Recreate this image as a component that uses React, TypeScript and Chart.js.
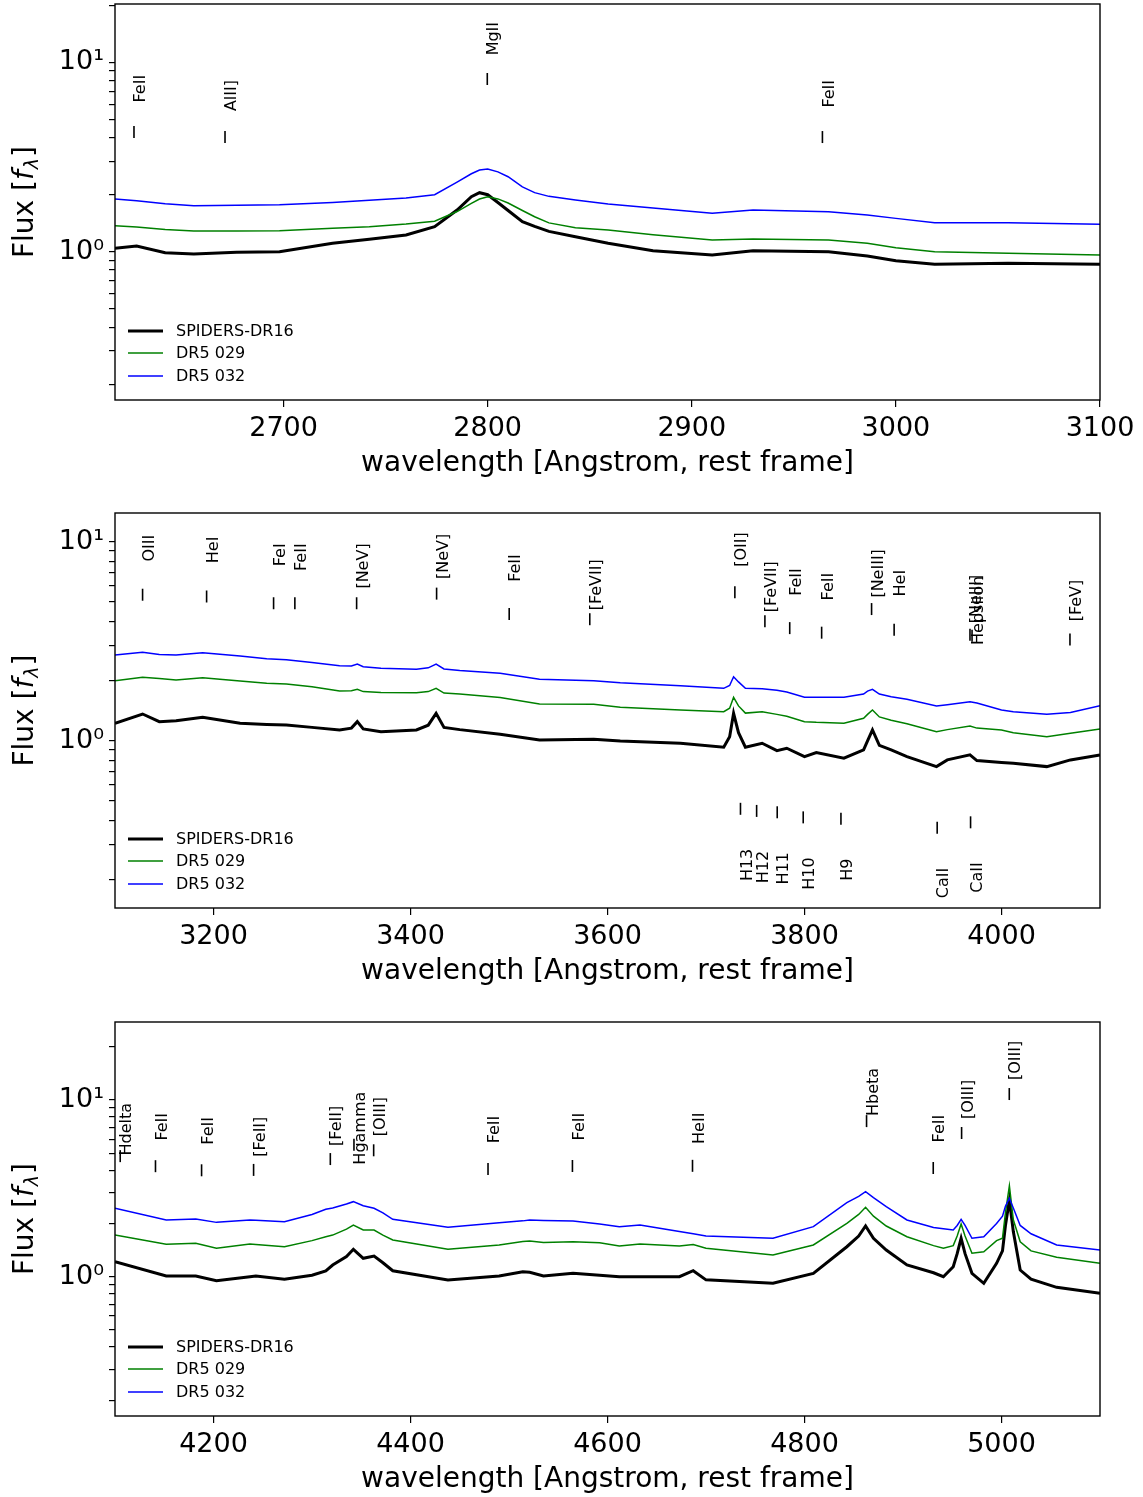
import React, { useEffect, useRef } from 'react';
import { Chart, registerables } from 'chart.js';

Chart.register(...registerables);

const FF = "'DejaVu Sans', 'Liberation Sans', sans-serif";

// ---------- shared ----------
const SERIES_LABELS = ['SPIDERS-DR16', 'DR5 029', 'DR5 032'];
const SERIES_COLORS = ['#000000', '#008000', '#0000ff'];
const SERIES_WIDTHS = [3, 1.5, 1.5];
const X_AXIS_TITLE = 'wavelength [Angstrom, rest frame]';
const Y_TITLE_PARTS = ['Flux [', 'f', 'λ', ']'];
const Y_TICK_VALUES = [0.2, 0.3, 0.4, 0.5, 0.6, 0.7, 0.8, 0.9, 1, 2, 3, 4, 5, 6, 7, 8, 9, 10, 20];
const Y_TICK_LABELS: Record<string, string> = { '1': '10⁰', '10': '10¹' };

// ---------- panel 1 ----------
const P1_WAVE = [2617.4, 2628, 2642, 2656, 2677, 2698, 2724, 2742, 2760, 2774, 2785, 2792, 2796, 2800, 2805, 2810, 2817, 2823, 2830, 2843, 2859, 2881, 2910, 2930, 2967, 2986, 3000, 3019, 3055, 3100];
const P1_SPIDERS = [1.042, 1.072, 0.988, 0.972, 0.993, 1.0, 1.108, 1.163, 1.225, 1.355, 1.661, 1.951, 2.049, 2.0, 1.82, 1.65, 1.44, 1.36, 1.28, 1.2, 1.108, 1.012, 0.961, 1.012, 1.0, 0.949, 0.896, 0.858, 0.869, 0.858];
const P1_DR5_029 = [1.372, 1.35, 1.31, 1.286, 1.288, 1.291, 1.33, 1.355, 1.4, 1.45, 1.63, 1.8, 1.898, 1.951, 1.9, 1.807, 1.65, 1.53, 1.42, 1.339, 1.302, 1.23, 1.153, 1.167, 1.153, 1.108, 1.05, 1.0, 0.981, 0.961];
const P1_DR5_032 = [1.898, 1.86, 1.79, 1.749, 1.76, 1.77, 1.82, 1.87, 1.92, 2.0, 2.33, 2.58, 2.7, 2.733, 2.64, 2.489, 2.2, 2.05, 1.96, 1.875, 1.786, 1.7, 1.595, 1.661, 1.626, 1.562, 1.5, 1.423, 1.423, 1.395];
const P1_X_TICKS = [2700, 2800, 2900, 3000, 3100];
const P1_LINE_NAMES = ['FeII', 'AlII]', 'MgII', 'FeII'];
const P1_LINE_WAVES = [2626.7, 2671.3, 2799.8, 2964.0];
const P1_LINE_FLUX = [4.29, 4.03, 8.16, 4.03];

// ---------- panel 2 ----------
const P2_WAVE = [3100, 3128, 3145, 3162, 3189, 3227, 3254, 3274, 3300, 3328, 3340, 3346, 3352, 3370, 3406, 3418, 3426, 3434, 3450, 3491, 3531, 3586, 3613, 3674, 3718, 3724, 3728, 3733, 3740, 3757, 3772, 3782, 3800, 3812, 3840, 3860, 3864, 3869, 3876, 3888, 3904, 3934, 3945, 3968, 3975, 4000, 4012, 4046, 4070, 4100];
const P2_SPIDERS = [1.227, 1.366, 1.25, 1.264, 1.315, 1.227, 1.21, 1.203, 1.17, 1.136, 1.16, 1.25, 1.15, 1.113, 1.136, 1.2, 1.377, 1.17, 1.14, 1.08, 1.012, 1.02, 1.0, 0.974, 0.93, 1.05, 1.377, 1.1, 0.93, 0.974, 0.894, 0.919, 0.834, 0.874, 0.819, 0.901, 1.0, 1.136, 0.95, 0.901, 0.834, 0.743, 0.803, 0.851, 0.797, 0.78, 0.773, 0.743, 0.803, 0.851];
const P2_DR5_029 = [2.007, 2.09, 2.06, 2.023, 2.078, 2.0, 1.948, 1.935, 1.87, 1.782, 1.79, 1.817, 1.77, 1.75, 1.747, 1.77, 1.838, 1.74, 1.72, 1.655, 1.533, 1.528, 1.476, 1.431, 1.403, 1.46, 1.657, 1.5, 1.38, 1.403, 1.36, 1.33, 1.25, 1.24, 1.227, 1.3, 1.36, 1.431, 1.32, 1.27, 1.22, 1.113, 1.14, 1.189, 1.16, 1.136, 1.1, 1.051, 1.093, 1.149];
const P2_DR5_032 = [2.7, 2.787, 2.72, 2.7, 2.773, 2.67, 2.588, 2.56, 2.48, 2.387, 2.38, 2.434, 2.36, 2.32, 2.29, 2.33, 2.434, 2.3, 2.26, 2.186, 2.04, 2.007, 1.961, 1.895, 1.838, 1.9, 2.102, 1.98, 1.838, 1.83, 1.8, 1.76, 1.66, 1.657, 1.657, 1.72, 1.78, 1.817, 1.72, 1.668, 1.62, 1.498, 1.52, 1.575, 1.55, 1.431, 1.4, 1.361, 1.39, 1.504];
const P2_X_TICKS = [3200, 3400, 3600, 3800, 4000];
const P2_EMIS_NAMES = ['OIII', 'HeI', 'FeI', 'FeII', '[NeV]', '[NeV]', 'FeII', '[FeVII]', '[OII]', '[FeVII]', 'FeII', 'FeII', '[NeIII]', 'HeI', '[NeIII]', 'Hepsilon', '[FeV]'];
const P2_EMIS_WAVES = [3128, 3193, 3261, 3282.6, 3345.3, 3426.5, 3500.2, 3582, 3729.3, 3759.8, 3785, 3817.4, 3868.1, 3891, 3968, 3970.1, 4069.5];
const P2_EMIS_FLUX = [5.43, 5.32, 4.92, 4.92, 4.92, 5.5, 4.34, 4.09, 5.59, 4.0, 3.69, 3.5, 4.6, 3.62, 3.42, 3.38, 3.23];
const P2_ABS_NAMES = ['H13', 'H12', 'H11', 'H10', 'H9', 'CaII', 'CaII'];
const P2_ABS_WAVES = [3735, 3751.4, 3772.3, 3798.7, 3837, 3934.7, 3968.6];
const P2_ABS_FLUX = [0.456, 0.445, 0.438, 0.413, 0.407, 0.366, 0.39];

// ---------- panel 3 ----------
const P3_WAVE = [4100, 4152, 4182, 4203, 4237, 4243, 4272, 4300, 4314, 4321, 4335, 4342, 4352, 4363, 4372, 4382, 4438, 4490, 4514, 4521, 4535, 4565, 4592, 4612, 4633, 4673, 4687, 4700, 4768, 4809, 4843, 4855, 4862, 4870, 4883, 4904, 4931, 4941, 4951, 4955, 4959, 4963, 4970, 4982, 4995, 5001, 5004, 5008, 5012, 5019, 5030, 5056, 5100];
const P3_SPIDERS = [1.216, 1.009, 1.009, 0.949, 1.0, 1.009, 0.967, 1.02, 1.08, 1.165, 1.3, 1.429, 1.271, 1.31, 1.2, 1.081, 0.958, 1.009, 1.067, 1.06, 1.009, 1.045, 1.02, 1.0, 1.0, 1.0, 1.081, 0.96, 0.918, 1.045, 1.478, 1.7, 1.936, 1.65, 1.416, 1.165, 1.053, 1.0, 1.139, 1.35, 1.65, 1.35, 1.045, 0.918, 1.191, 1.4, 1.95, 2.717, 1.8, 1.091, 0.97, 0.871, 0.805];
const P3_DR5_029 = [1.722, 1.526, 1.545, 1.448, 1.531, 1.52, 1.478, 1.6, 1.684, 1.72, 1.86, 1.962, 1.838, 1.838, 1.72, 1.614, 1.429, 1.512, 1.58, 1.592, 1.56, 1.578, 1.557, 1.492, 1.531, 1.49, 1.52, 1.45, 1.327, 1.512, 2.005, 2.25, 2.471, 2.2, 1.936, 1.684, 1.5, 1.448, 1.5, 1.7, 1.987, 1.7, 1.357, 1.385, 1.6, 1.65, 2.3, 3.273, 2.1, 1.578, 1.4, 1.288, 1.191];
const P3_DR5_032 = [2.438, 2.094, 2.121, 2.03, 2.094, 2.09, 2.048, 2.25, 2.407, 2.45, 2.58, 2.658, 2.52, 2.438, 2.3, 2.113, 1.904, 2.021, 2.07, 2.094, 2.08, 2.067, 1.987, 1.919, 1.962, 1.8, 1.75, 1.699, 1.65, 1.919, 2.623, 2.85, 3.027, 2.8, 2.489, 2.094, 1.9, 1.87, 1.838, 1.95, 2.113, 1.95, 1.65, 1.684, 2.0, 2.2, 2.5, 2.778, 2.45, 1.95, 1.75, 1.512, 1.416];
const P3_X_TICKS = [4200, 4400, 4600, 4800, 5000];
const P3_LINE_NAMES = ['Hdelta', 'FeII', 'FeII', '[FeII]', '[FeII]', 'Hgamma', '[OIII]', 'FeII', 'FeII', 'HeII', 'Hbeta', 'FeII', '[OIII]', '[OIII]'];
const P3_LINE_WAVES = [4105.3, 4141.1, 4187.9, 4240.7, 4318.6, 4342.6, 4362.6, 4478.7, 4564.4, 4686.3, 4863, 4930.7, 4959.5, 5007.9];
const P3_LINE_FLUX = [4.81, 4.22, 4.0, 4.02, 4.63, 5.57, 5.19, 4.07, 4.23, 4.24, 7.59, 4.12, 6.5, 10.8];

type LineGroup = { names: string[]; waves: number[]; flux: number[]; labelFactor: number };
type PanelSpec = {
  waves: number[];
  series: number[][];
  xMin: number; xMax: number; xTicks: number[];
  yMin: number; yMax: number;
  groups: LineGroup[];
  frameTop: number; frameHeight: number;
};

const PANELS: PanelSpec[] = [
  {
    waves: P1_WAVE, series: [P1_SPIDERS, P1_DR5_029, P1_DR5_032],
    xMin: 2617.4, xMax: 3100, xTicks: P1_X_TICKS, yMin: 0.165, yMax: 20.3,
    groups: [{ names: P1_LINE_NAMES, waves: P1_LINE_WAVES, flux: P1_LINE_FLUX, labelFactor: 2 }],
    frameTop: 4, frameHeight: 396,
  },
  {
    waves: P2_WAVE, series: [P2_SPIDERS, P2_DR5_029, P2_DR5_032],
    xMin: 3100, xMax: 4100, xTicks: P2_X_TICKS, yMin: 0.1447, yMax: 13.98,
    groups: [
      { names: P2_EMIS_NAMES, waves: P2_EMIS_WAVES, flux: P2_EMIS_FLUX, labelFactor: 2 },
      { names: P2_ABS_NAMES, waves: P2_ABS_WAVES, flux: P2_ABS_FLUX, labelFactor: 0.63 },
    ],
    frameTop: 513, frameHeight: 395,
  },
  {
    waves: P3_WAVE, series: [P3_SPIDERS, P3_DR5_029, P3_DR5_032],
    xMin: 4100, xMax: 5100, xTicks: P3_X_TICKS, yMin: 0.163, yMax: 27.6,
    groups: [{ names: P3_LINE_NAMES, waves: P3_LINE_WAVES, flux: P3_LINE_FLUX, labelFactor: 2 }],
    frameTop: 1022, frameHeight: 394,
  },
];

const PAD_TOP = 24;
const PAD_BOTTOM = 4;
const X_AXIS_HEIGHT = 81;
const Y_AXIS_WIDTH = 115;
const PAD_RIGHT = 43;
const LEGEND_ROWS = [69, 47, 24];

function makeDecor(panel: PanelSpec) {
  return {
    id: 'panelDecor',
    afterDatasetsDraw(chart: any) {
      const { ctx, chartArea: a, scales } = chart;
      const xs = scales.x;
      const ys = scales.y;
      ctx.save();
      // frame
      ctx.strokeStyle = '#000';
      ctx.lineWidth = 1.4;
      ctx.strokeRect(a.left, a.top, a.right - a.left, a.bottom - a.top);

      // line labels
      ctx.fillStyle = '#000';
      ctx.font = `16px ${FF}`;
      ctx.textAlign = 'right';
      ctx.textBaseline = 'top';
      panel.groups.forEach((g) => {
        g.names.forEach((name, i) => {
          const x = xs.getPixelForValue(g.waves[i]);
          const y = ys.getPixelForValue(g.flux[i] * g.labelFactor);
          ctx.save();
          ctx.translate(x - 1, y);
          ctx.rotate(-Math.PI / 2);
          ctx.fillText(name, 0, 0);
          ctx.restore();
        });
      });

      // legend
      ctx.textAlign = 'left';
      ctx.textBaseline = 'middle';
      chart.data.datasets.slice(0, 3).forEach((ds: any, i: number) => {
        const y = a.bottom - LEGEND_ROWS[i];
        ctx.strokeStyle = ds.borderColor;
        ctx.lineWidth = ds.borderWidth;
        ctx.beginPath();
        ctx.moveTo(a.left + 13, y);
        ctx.lineTo(a.left + 48, y);
        ctx.stroke();
        ctx.fillStyle = '#000';
        ctx.font = `16px ${FF}`;
        ctx.fillText(ds.label, a.left + 61, y + 1);
      });

      // y-axis title with italic f and subscript lambda
      const cy = (a.top + a.bottom) / 2;
      const fonts = [`28px ${FF}`, `italic 28px ${FF}`, `italic 19px ${FF}`, `28px ${FF}`];
      const widths = Y_TITLE_PARTS.map((t, i) => {
        ctx.font = fonts[i];
        return ctx.measureText(t).width;
      });
      const total = widths.reduce((s, w) => s + w, 0) + 2;
      ctx.save();
      ctx.translate(26, cy);
      ctx.rotate(-Math.PI / 2);
      ctx.textAlign = 'left';
      ctx.textBaseline = 'middle';
      ctx.fillStyle = '#000';
      let px = -total / 2;
      Y_TITLE_PARTS.forEach((t, i) => {
        ctx.font = fonts[i];
        const dy = i === 2 ? 7 : 0;
        ctx.fillText(t, px, dy);
        px += widths[i] + (i === 1 ? 1 : i === 2 ? 1 : 0);
      });
      ctx.restore();
      ctx.restore();
    },
  };
}

function SpectrumPanel({ panel }: { panel: PanelSpec }) {
  const ref = useRef<HTMLCanvasElement>(null);
  const canvasHeight = PAD_TOP + panel.frameHeight + X_AXIS_HEIGHT + PAD_BOTTOM;
  const canvasTop = panel.frameTop - PAD_TOP;

  useEffect(() => {
    const canvas = ref.current;
    if (!canvas) return;
    const spectra = panel.series.map((flux, i) => ({
      type: 'scatter' as const,
      label: SERIES_LABELS[i],
      data: panel.waves.map((w, j) => ({ x: w, y: flux[j] })),
      showLine: true,
      borderColor: SERIES_COLORS[i],
      backgroundColor: SERIES_COLORS[i],
      borderWidth: SERIES_WIDTHS[i],
      pointRadius: 0,
      tension: 0,
      order: 3 - i,
    }));
    const markers = panel.groups.map((g, gi) => ({
      type: 'scatter' as const,
      label: 'lines' + gi,
      data: g.waves.map((w, j) => ({ x: w, y: g.flux[j] })),
      showLine: false,
      pointStyle: 'line' as const,
      rotation: 90,
      pointRadius: 6,
      borderColor: '#000',
      backgroundColor: '#000',
      pointBorderWidth: 1.6,
      borderWidth: 1.6,
      order: 0,
    }));

    const chart = new Chart(canvas, {
      type: 'scatter',
      data: { datasets: [...spectra, ...markers] as any },
      options: {
        animation: false,
        responsive: false,
        devicePixelRatio: 1,
        events: [],
        layout: { padding: { top: PAD_TOP, left: 0, right: PAD_RIGHT, bottom: PAD_BOTTOM } },
        plugins: { legend: { display: false }, tooltip: { enabled: false } },
        scales: {
          x: {
            type: 'linear',
            min: panel.xMin,
            max: panel.xMax,
            afterBuildTicks: (s: any) => { s.ticks = panel.xTicks.map((v) => ({ value: v })); },
            afterFit: (s: any) => { s.height = X_AXIS_HEIGHT; },
            ticks: {
              autoSkip: false, maxRotation: 0, padding: 6, color: '#000',
              font: { family: FF, size: 27 },
              callback: (v: any) => String(v),
            },
            grid: { drawOnChartArea: false, drawTicks: true, tickLength: 7, color: '#000', lineWidth: 1.2 },
            border: { display: false },
            title: {
              display: true, text: X_AXIS_TITLE, color: '#000',
              font: { family: FF, size: 28 }, padding: { top: 0, bottom: 0 },
            },
          },
          y: {
            type: 'logarithmic',
            min: panel.yMin,
            max: panel.yMax,
            afterBuildTicks: (s: any) => {
              s.ticks = Y_TICK_VALUES.filter((v) => v >= panel.yMin && v <= panel.yMax).map((v) => ({ value: v }));
            },
            afterFit: (s: any) => { s.width = Y_AXIS_WIDTH; },
            ticks: {
              autoSkip: false, padding: 5, color: '#000',
              font: { family: FF, size: 27 },
              callback: (v: any) => Y_TICK_LABELS[String(v)] ?? '',
            },
            grid: { drawOnChartArea: false, drawTicks: true, tickLength: 6, color: '#000', lineWidth: 1.2 },
            border: { display: false },
            title: { display: false },
          },
        },
      } as any,
      plugins: [makeDecor(panel)],
    });
    return () => chart.destroy();
  }, [panel]);

  return (
    <canvas
      ref={ref}
      width={1143}
      height={canvasHeight}
      style={{ position: 'absolute', left: 0, top: canvasTop, width: 1143, height: canvasHeight }}
    />
  );
}

export default function App() {
  return (
    <div style={{ position: 'absolute', left: 0, top: 0, width: 1143, height: 1497, background: '#fff', overflow: 'hidden' }}>
      {PANELS.map((p, i) => (
        <SpectrumPanel key={i} panel={p} />
      ))}
    </div>
  );
}
